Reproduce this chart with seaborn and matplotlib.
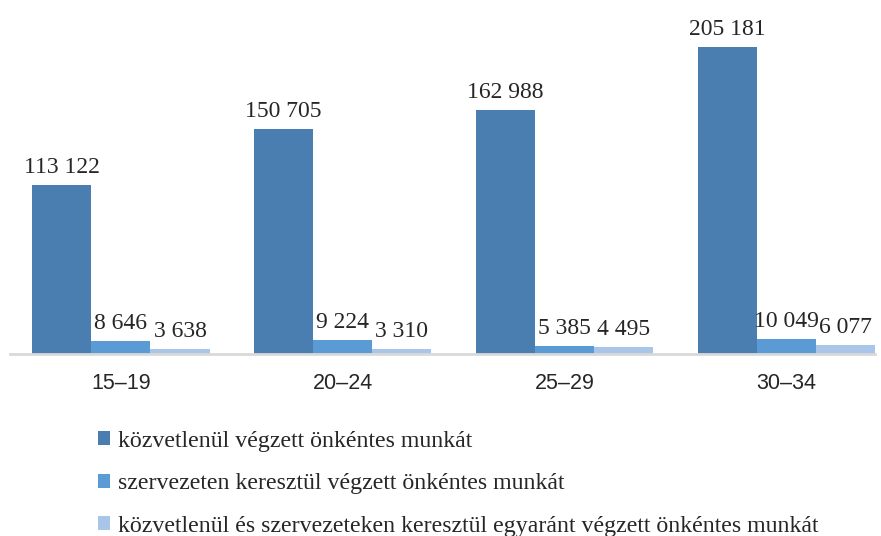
import pandas as pd
import matplotlib.pyplot as plt
import seaborn as sns

age_groups = ['15–19', '20–24', '25–29', '30–34']
series_names = ['közvetlenül végzett önkéntes munkát',
                'szervezeten keresztül végzett önkéntes munkát',
                'közvetlenül és szervezeteken keresztül egyaránt végzett önkéntes munkát']
direct = [113122, 150705, 162988, 205181]
via_org = [8646, 9224, 5385, 10049]
both = [3638, 3310, 4495, 6077]
colors = ['#4a7eb0', '#5b9bd5', '#a9c5e7']

df = pd.DataFrame({
    'age': age_groups * 3,
    'kind': [series_names[0]] * 4 + [series_names[1]] * 4 + [series_names[2]] * 4,
    'value': direct + via_org + both,
})

sns.set_style("white")
fig = plt.figure(figsize=(8.81, 5.36), dpi=100)
ax = fig.add_axes([10 / 881, (536 - 354) / 536, 865 / 881, 344 / 536])
sns.barplot(data=df, x='age', y='value', hue='kind', palette=colors,
            width=0.8, saturation=1, linewidth=0, ax=ax, legend=True)

for cont in ax.containers:
    ax.bar_label(cont, labels=[f"{int(v):,}".replace(",", " ") for v in cont.datavalues],
                 padding=5, fontsize=17, family='Liberation Serif')

ax.set_xlim(-0.5, 3.40)
ax.set_ylim(0, 230000)
ax.set_xlabel('')
ax.set_ylabel('')
ax.set_yticks([])
ax.tick_params(axis='x', length=0, pad=14)
for lab in ax.get_xticklabels():
    lab.set_fontfamily('Liberation Sans')
    lab.set_fontsize(15.5)
sns.despine(ax=ax, left=True)
ax.spines['bottom'].set_color('#d9d9d9')
ax.spines['bottom'].set_linewidth(2)

handles, labels = ax.get_legend_handles_labels()
ax.get_legend().remove()
fig.legend(handles, labels, loc='upper left', bbox_to_anchor=(81 / 881, 1 - 414 / 536),
           frameon=False, handlelength=0.5, handleheight=0.5, handletextpad=0.35,
           labelspacing=0.9, borderpad=0.2, prop={'family': 'Liberation Serif', 'size': 17.2})

plt.savefig("out.png", dpi=100)
